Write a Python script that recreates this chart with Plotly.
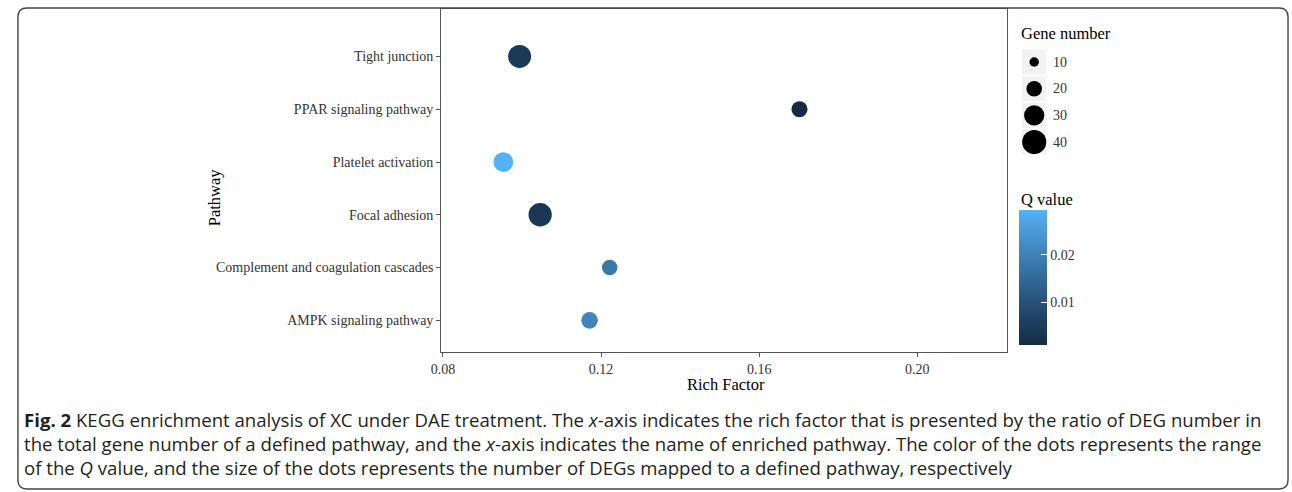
import math
import plotly.graph_objects as go

# ---------------- data ----------------
pathways = ["AMPK signaling pathway", "Complement and coagulation cascades", "Focal adhesion",
            "Platelet activation", "PPAR signaling pathway", "Tight junction"]
rich_factor = [0.1171, 0.1222, 0.1046, 0.0953, 0.1702, 0.0994]
gene_number = [22, 20, 38, 29, 21, 37]
q_value = [0.0205, 0.0180, 0.0040, 0.0295, 0.0009, 0.0045]

x_ticks = [0.08, 0.12, 0.16, 0.20]
x_ticktext = ["0.08", "0.12", "0.16", "0.20"]
q_ticks = [0.01, 0.02]
q_ticktext = ["0.01", "0.02"]
size_breaks = [10, 20, 30, 40]

caption_lines = [
    "<b>Fig. 2</b> KEGG enrichment analysis of XC under DAE treatment. The <i>x</i>-axis indicates the rich factor that is presented by the ratio of DEG number in",
    "the total gene number of a defined pathway, and the <i>x</i>-axis indicates the name of enriched pathway. The color of the dots represents the range",
    "of the <i>Q</i> value, and the size of the dots represents the number of DEGs mapped to a defined pathway, respectively",
]

# ---------------- style helpers ----------------
W, H = 1292, 492
def px(x):
    return x / W
def py(y):
    return 1 - y / H

def dot_diam(n):
    return 4.6 * math.sqrt(n) - 5

# ggplot-like Lab gradient #132B43 -> #56B1F7
def _srgb_to_lin(c):
    c = c / 255
    return c / 12.92 if c <= 0.04045 else ((c + 0.055) / 1.055) ** 2.4
def _lin_to_srgb(c):
    c = max(0.0, min(1.0, c))
    v = 12.92 * c if c <= 0.0031308 else 1.055 * c ** (1 / 2.4) - 0.055
    return round(v * 255)
def hex2lab(h):
    r, g, b = [_srgb_to_lin(int(h[i:i + 2], 16)) for i in (1, 3, 5)]
    X = 0.4124 * r + 0.3576 * g + 0.1805 * b
    Y = 0.2126 * r + 0.7152 * g + 0.0722 * b
    Z = 0.0193 * r + 0.1192 * g + 0.9505 * b
    Xn, Yn, Zn = 0.95047, 1.0, 1.08883
    f = lambda t: t ** (1 / 3) if t > 0.008856 else 7.787 * t + 16 / 116
    fx, fy, fz = f(X / Xn), f(Y / Yn), f(Z / Zn)
    return 116 * fy - 16, 500 * (fx - fy), 200 * (fy - fz)
def lab2hex(L, a, b):
    fy = (L + 16) / 116
    fx = fy + a / 500
    fz = fy - b / 200
    finv = lambda t: t ** 3 if t ** 3 > 0.008856 else (t - 16 / 116) / 7.787
    X, Y, Z = 0.95047 * finv(fx), finv(fy), 1.08883 * finv(fz)
    r = 3.2406 * X - 1.5372 * Y - 0.4986 * Z
    g = -0.9689 * X + 1.8758 * Y + 0.0415 * Z
    bb = 0.0557 * X - 0.2040 * Y + 1.0570 * Z
    return "#%02X%02X%02X" % (_lin_to_srgb(r), _lin_to_srgb(g), _lin_to_srgb(bb))
lo, hi = hex2lab("#132B43"), hex2lab("#56B1F7")
colorscale = []
for i in range(11):
    t = i / 10
    colorscale.append([t, lab2hex(*[lo[k] + (hi[k] - lo[k]) * t for k in range(3)])])

SERIF = "Liberation Serif"
AXIS_COL = "#555555"
TICK_COL = "#333333"
CB_LEFT, CB_W, CB_BOTTOM, CB_LEN = 1017, 28, 345, 135

fig = go.Figure()

fig.add_trace(go.Scatter(
    x=rich_factor, y=pathways, mode="markers",
    marker=dict(size=[dot_diam(n) for n in gene_number], color=q_value,
                colorscale=colorscale, line=dict(width=0), opacity=1,
                colorbar=dict(
                    x=px(CB_LEFT), xanchor="left", xpad=0,
                    y=py(CB_BOTTOM), yanchor="bottom", ypad=0,
                    len=CB_LEN, lenmode="pixels", thickness=CB_W, thicknessmode="pixels",
                    outlinewidth=0, tickvals=q_ticks, ticktext=q_ticktext,
                    ticks="inside", ticklen=6, tickcolor="white", tickwidth=1,
                    tickfont=dict(family=SERIF, size=14, color=TICK_COL),
                )),
    showlegend=False, hoverinfo="skip",
))

# left-side white ticks on the colour bar (ggplot style), same linear scale as the bar
qmin, qmax = min(q_value), max(q_value)
for q in q_ticks:
    yy = CB_BOTTOM - (q - qmin) / (qmax - qmin) * CB_LEN
    fig.add_shape(type="line", xref="paper", yref="paper", x0=px(CB_LEFT), x1=px(CB_LEFT + 6),
                  y0=py(yy), y1=py(yy), line=dict(color="white", width=1))

# size legend keys
key_y = [62 + 26.7 * i for i in range(len(size_breaks))]
for yk in key_y:
    fig.add_shape(type="rect", xref="x2", yref="y2", x0=1019.5, x1=1044.5, y0=yk - 12.5, y1=yk + 12.5,
                  fillcolor="#F2F2F2", line=dict(width=0), layer="below")
fig.add_trace(go.Scatter(
    x=[1032] * len(size_breaks), y=key_y, mode="markers",
    marker=dict(size=[dot_diam(n) for n in size_breaks], color="#000000", opacity=1,
                line=dict(width=0)),
    xaxis="x2", yaxis="y2", showlegend=False, hoverinfo="skip",
))
for yk, n in zip(key_y, size_breaks):
    fig.add_annotation(x=1049, y=yk, xref="x2", yref="y2", text=str(n), showarrow=False,
                       xanchor="left", yanchor="middle",
                       font=dict(family=SERIF, size=14, color=TICK_COL))

fig.add_annotation(x=px(1017), y=py(34), xref="paper", yref="paper", text="Gene number",
                   showarrow=False, xanchor="left", yanchor="middle",
                   font=dict(family=SERIF, size=16.5, color="black"))
fig.add_annotation(x=px(1017), y=py(199), xref="paper", yref="paper", text="Q value",
                   showarrow=False, xanchor="left", yanchor="middle",
                   font=dict(family=SERIF, size=16.5, color="black"))

# axis titles
fig.add_annotation(x=px(721), y=py(384), xref="paper", yref="paper", text="Rich Factor",
                   showarrow=False, xanchor="center", yanchor="middle",
                   font=dict(family=SERIF, size=16.5, color="black"))
fig.add_annotation(x=px(205), y=py(197), xref="paper", yref="paper", text="Pathway",
                   showarrow=False, textangle=-90, xanchor="center", yanchor="middle",
                   font=dict(family=SERIF, size=16.5, color="black"))

# caption (single text block)
fig.add_annotation(x=px(11), y=py(443), xref="paper", yref="paper", text="<br>".join(caption_lines),
                   showarrow=False, xanchor="left", yanchor="middle", align="left",
                   font=dict(family="Open Sans", size=18.6, color="#231F20"))

# outer rounded border
x0, y0, x1, y1, r = 7, 8, 1288, 489, 9
path = (f"M {px(x0 + r)},{py(y0)} L {px(x1 - r)},{py(y0)} Q {px(x1)},{py(y0)} {px(x1)},{py(y0 + r)} "
        f"L {px(x1)},{py(y1 - r)} Q {px(x1)},{py(y1)} {px(x1 - r)},{py(y1)} "
        f"L {px(x0 + r)},{py(y1)} Q {px(x0)},{py(y1)} {px(x0)},{py(y1 - r)} "
        f"L {px(x0)},{py(y0 + r)} Q {px(x0)},{py(y0)} {px(x0 + r)},{py(y0)} Z")
fig.add_shape(type="path", xref="paper", yref="paper", path=path,
              line=dict(color="#444444", width=1.4))

fig.update_layout(
    width=W, height=H, margin=dict(l=0, r=0, t=0, b=0),
    paper_bgcolor="white", plot_bgcolor="white",
    xaxis=dict(domain=[px(434), px(1005)], range=[0.0796, 0.2228],
               tickvals=x_ticks, ticktext=x_ticktext, ticks="outside", ticklen=4,
               tickcolor=AXIS_COL, tickwidth=1.3,
               showline=True, linecolor=AXIS_COL, linewidth=1.3, mirror=True,
               showgrid=False, zeroline=False,
               tickfont=dict(family=SERIF, size=14, color=TICK_COL)),
    yaxis=dict(domain=[py(352), py(9)], type="category",
               categoryorder="array", categoryarray=pathways, range=[-0.6, 5.9],
               ticks="outside", ticklen=4, tickcolor=AXIS_COL, tickwidth=1.3,
               showline=True, linecolor=AXIS_COL, linewidth=1.3, mirror=True,
               showgrid=False, zeroline=False,
               tickfont=dict(family=SERIF, size=14, color=TICK_COL)),
    xaxis2=dict(domain=[px(1010), px(1110)], range=[1010, 1110], visible=False, anchor="y2"),
    yaxis2=dict(domain=[py(170), py(20)], range=[170, 20], visible=False, anchor="x2"),
)

fig.write_html("out.html", config={"displayModeBar": False},
               post_script="document.body.style.margin='0';document.body.style.overflow='hidden';")
